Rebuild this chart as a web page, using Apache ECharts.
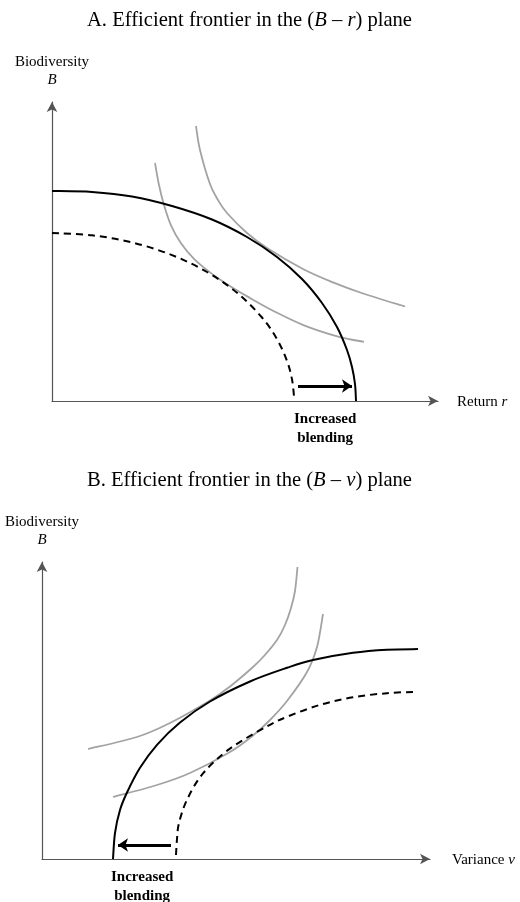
<!DOCTYPE html>
<html lang="en">
<head>
  <meta charset="UTF-8">
  <title>Efficient frontier</title>
  <style>
    body { margin: 0; background: #fff; }
    #main { width: 520px; height: 902px; }
  </style>
</head>
<body>
  <div id="main"></div>
  <script src="https://cdn.jsdelivr.net/npm/echarts@6/dist/echarts.min.js"></script>
  <script type="text/javascript">

    // panel A: B against return r  ([r, B] pairs)
    var solidA = [[0, 210], [40, 209], [80, 204.5], [120, 195], [160, 181.5], [195, 164], [225, 144],
                  [250, 122], [270, 98], [285, 74], [295, 51], [300, 34], [303, 17], [304, 0]];
    var dashedA = [[0, 168], [40, 165.7], [80, 158.6], [120, 145.9], [155, 129], [185, 108.3], [210, 83.5],
                   [225, 61.8], [235, 40.1], [240, 21.6], [242, 5]];
    var grayA1 = [[103, 238], [107, 216], [112, 196], [119, 175.7], [129, 157.7], [142, 142.1], [157, 129.4],
                  [175, 116.8], [197, 103.6], [222, 89.8], [252, 75.7], [287, 64.2], [312, 59.2]];
    var grayA2 = [[144, 275], [148, 251], [158, 217], [166, 201], [175, 188], [195, 168], [215, 153],
                  [251, 132], [281, 118.6], [311, 107.5], [353, 94.5]];
    var arrowA = [[246, 15], [300, 15]];

    // panel B: B against variance v  ([v, B] pairs)
    var solidB = [[71, 0], [73, 26], [78, 49], [85, 66.5], [98, 91.2], [115, 114.2], [138, 136.5],
                  [168, 157.5], [208, 177.5], [245, 191.2], [271, 199], [311, 206.2], [345, 209.3], [376, 209.9]];
    var dashedB = [[134, 4], [135, 20], [137, 36], [145, 59.2], [161, 85.6], [188, 110.4], [225, 132.6],
                   [245, 142.2], [278, 154.1], [311, 161.7], [345, 165.8], [376, 167.3]];
    var grayB1 = [[46, 110], [95, 122], [128, 136], [168, 158.5], [188, 172.5], [211, 192], [222, 203],
                  [235, 219], [243, 234], [249, 251], [253, 268], [255.5, 292]];
    var grayB2 = [[71, 62], [115, 74], [148, 86], [188, 107], [211, 123.5], [228, 139], [245, 158],
                  [265, 187], [275, 212], [281, 245]];
    var arrowB = [[129, 14], [76, 14]];

    var serif = 'Liberation Serif';
    var italic = { fontFamily: serif, fontStyle: 'italic', fontSize: 20.6, color: '#000' };

    function axisX(idx, max, name, gap) {
      return {
        type: 'value', gridIndex: idx, min: 0, max: max,
        axisLine: { show: true, symbol: ['none', 'arrow'], symbolSize: [8, 10],
                    lineStyle: { color: '#555', width: 1.2 } },
        axisTick: { show: false }, axisLabel: { show: false }, splitLine: { show: false },
        name: name, nameLocation: 'end', nameGap: gap,
        nameTextStyle: { fontFamily: serif, fontSize: 15, color: '#000', padding: [3, 0, 0, 0],
                         rich: { i: { fontFamily: serif, fontStyle: 'italic', fontSize: 15, color: '#000' } } }
      };
    }

    function axisY(idx, max) {
      return {
        type: 'value', gridIndex: idx, min: 0, max: max,
        axisLine: { show: true, symbol: ['none', 'arrow'], symbolSize: [8, 10],
                    lineStyle: { color: '#555', width: 1.2 } },
        axisTick: { show: false }, axisLabel: { show: false }, splitLine: { show: false },
        name: 'Biodiversity\n{i|B}', nameLocation: 'end', nameGap: 13,
        nameTextStyle: { fontFamily: serif, fontSize: 15, color: '#000', lineHeight: 18, align: 'center',
                         rich: { i: { fontFamily: serif, fontStyle: 'italic', fontSize: 15, color: '#000', lineHeight: 18 } } }
      };
    }

    // smooth curve through the points (catmull-rom), positions come from the axes via api.coord
    function curve(idx, pts, color, dash, width) {
      return {
        type: 'custom', xAxisIndex: idx, yAxisIndex: idx, silent: true,
        data: [pts[0]],
        renderItem: function (params, api) {
          var p = pts.map(function (d) { return api.coord(d); });
          var d = 'M' + p[0][0] + ' ' + p[0][1];
          for (var i = 0; i < p.length - 1; i++) {
            var p0 = p[i - 1] || p[i], p1 = p[i], p2 = p[i + 1], p3 = p[i + 2] || p[i + 1];
            d += ' C' + (p1[0] + (p2[0] - p0[0]) / 6) + ' ' + (p1[1] + (p2[1] - p0[1]) / 6) +
                 ' ' + (p2[0] - (p3[0] - p1[0]) / 6) + ' ' + (p2[1] - (p3[1] - p1[1]) / 6) +
                 ' ' + p2[0] + ' ' + p2[1];
          }
          return {
            type: 'path',
            shape: { pathData: d },
            style: { fill: 'none', stroke: color, lineWidth: width, lineDash: dash }
          };
        }
      };
    }

    function arrow(idx, pts) {
      return {
        type: 'lines', coordinateSystem: 'cartesian2d', xAxisIndex: idx, yAxisIndex: idx,
        symbol: ['none', 'arrow'], symbolSize: 10, silent: true,
        lineStyle: { color: '#000', width: 3, opacity: 1 },
        data: [{ coords: pts }]
      };
    }

    var myChart = echarts.init(document.getElementById('main'));

    var option = {
      animation: false,
      title: [{
        text: 'A. Efficient frontier in the ({i|B} – {i|r}) plane',
        left: 87, top: 10, padding: 0,
        textStyle: { fontFamily: serif, fontSize: 20.6, fontWeight: 'normal', color: '#000', rich: { i: italic } }
      }, {
        text: 'B. Efficient frontier in the ({i|B} – {i|v}) plane',
        left: 87, top: 470, padding: 0,
        textStyle: { fontFamily: serif, fontSize: 20.6, fontWeight: 'normal', color: '#000', rich: { i: italic } }
      }],
      grid: [
        { left: 52, top: 102, width: 386, height: 299 },
        { left: 42, top: 562, width: 388, height: 297 }
      ],
      xAxis: [axisX(0, 386, 'Return {i|r}', 19), axisX(1, 388, 'Variance {i|v}', 22)],
      yAxis: [axisY(0, 299), axisY(1, 297)],
      series: [
        curve(0, grayA1, '#a3a3a3', null, 1.8),
        curve(0, grayA2, '#a3a3a3', null, 1.8),
        curve(0, dashedA, '#000', [7, 5], 2),
        curve(0, solidA, '#000', null, 2),
        arrow(0, arrowA),
        curve(1, grayB1, '#a3a3a3', null, 1.8),
        curve(1, grayB2, '#a3a3a3', null, 1.8),
        curve(1, dashedB, '#000', [7, 5], 2),
        curve(1, solidB, '#000', null, 2),
        arrow(1, arrowB)
      ],
      graphic: [{
        type: 'text', left: 294, top: 410,
        style: { text: 'Increased\nblending', font: 'bold 15px "Liberation Serif"', fill: '#000',
                 textAlign: 'center', lineHeight: 19 }
      }, {
        type: 'text', left: 111, top: 868,
        style: { text: 'Increased\nblending', font: 'bold 15px "Liberation Serif"', fill: '#000',
                 textAlign: 'center', lineHeight: 19 }
      }]
    };

    myChart.setOption(option);
  </script>
</body>
</html>
